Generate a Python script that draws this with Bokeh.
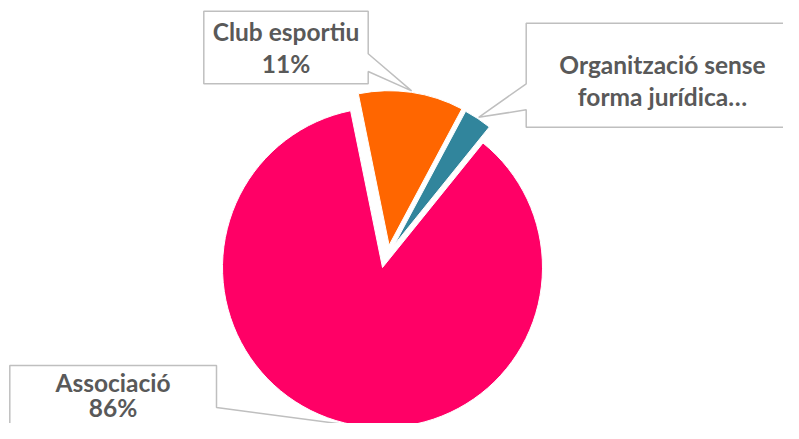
import numpy as np
from bokeh.plotting import figure
from bokeh.models import Range1d
from bokeh.core.properties import value
from bokeh.embed import file_html
from bokeh.resources import INLINE

# ---- data ----
categories = ["Associació", "Club esportiu", "Organització sense forma jurídica…"]
label_line1 = ["Associació", "Club esportiu", "Organització sense"]
label_line2 = ["86%", "11%", "forma jurídica…"]
shares = [86, 11, 3]
colors = ["#FF0066", "#FF6600", "#31859C"]

# ---- layout (picture pixel coordinates; converted to data below) ----
W, H = 783, 423
def DY(img_y):
    return H - img_y

first_slice_angle = 38.9          # degrees, clockwise from 12 o'clock
pie_cx, pie_cy = 382.0, 267.0     # centre of the un-exploded slice
explode_dx = [0.0, 6.6, 12.0]
explode_dy = [0.0, -22.3, -23.0]
radii = [160.0, 154.5, 151.0]

TEXT = "#595959"
BORDER = "#BFBFBF"
FONT = "Lato"
FSIZE = "24.5px"
TEXT_SHIFT = 10.0   # renderer places the text this much lower than the anchor

p = figure(width=W, height=H, output_backend="svg", toolbar_location=None,
           x_range=Range1d(0, W), y_range=Range1d(0, H),
           x_axis_location=None, y_axis_location=None, min_border=0)
p.outline_line_color = None
p.xgrid.visible = False
p.ygrid.visible = False
p.background_fill_color = "white"

total = float(sum(shares))
cum = first_slice_angle
tips = []
for i, s in enumerate(shares):
    span = 360.0 * s / total
    th_a, th_b = cum, cum + span
    cum = th_b
    cx = pie_cx + explode_dx[i]
    cy = pie_cy + explode_dy[i]
    start = np.deg2rad(90.0 - th_b)
    end = np.deg2rad(90.0 - th_a)
    p.wedge(x=cx, y=DY(cy), radius=radii[i], start_angle=start, end_angle=end,
            fill_color=colors[i], line_color="white", line_width=1)
    mid = np.deg2rad((th_a + th_b) / 2.0)
    r = radii[i] + 1.5
    tips.append((cx + r * np.sin(mid), cy - r * np.cos(mid)))

def callout(pts):
    xs = [q[0] for q in pts]
    ys = [DY(q[1]) for q in pts]
    p.patch(xs, ys, fill_color="white", line_color=BORDER, line_width=1.5)

# Associació box (pointer on right edge)
callout([(9.3, 365), (216, 365), (216, 407), tips[0], (216, 427), (216, 470), (9.3, 470)])
# Club esportiu box (pointer on right edge)
callout([(203.3, 10.7), (367.7, 10.7), (367.7, 53.3), tips[1], (367.7, 71), (367.7, 83.3), (203.3, 83.3)])
# Organització box (pointer on left edge)
callout([(525.7, 22.7), (799, 22.7), (799, 126.7), (525.7, 126.7), (525.7, 109.3), tips[2], (525.7, 83.3)])

label_x = [112.5, 285.5, 662.0]
line1_y = [392.0, 40.5, 73.5]
line2_y = [416.5, 73.0, 105.5]
for i in range(3):
    p.text(x=[label_x[i]], y=[DY(line1_y[i] - TEXT_SHIFT)], text=[label_line1[i]],
           text_align="center", text_baseline="alphabetic",
           text_font=value(FONT), text_font_style="bold", text_font_size=FSIZE, text_color=TEXT)
    p.text(x=[label_x[i]], y=[DY(line2_y[i] - TEXT_SHIFT)], text=[label_line2[i]],
           text_align="center", text_baseline="alphabetic",
           text_font=value(FONT), text_font_style="bold", text_font_size=FSIZE, text_color=TEXT)

open("out.html", "w").write(file_html(p, INLINE))
